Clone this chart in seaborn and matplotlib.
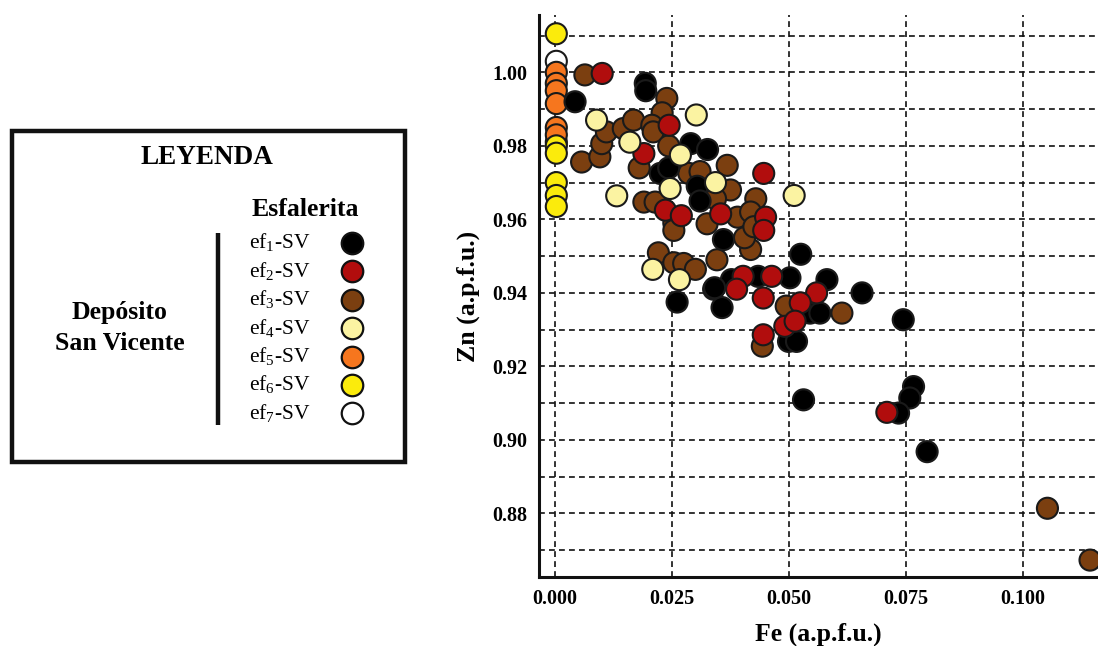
import numpy as np
import pandas as pd
import seaborn as sns
import matplotlib.pyplot as plt
from matplotlib.ticker import MultipleLocator

sns.set_style('white')
plt.rcParams['font.family'] = ['Liberation Serif', 'DejaVu Serif']
plt.rcParams['mathtext.fontset'] = 'custom'
plt.rcParams['mathtext.rm'] = 'Liberation Serif'
plt.rcParams['text.color'] = 'black'
plt.rcParams['axes.labelcolor'] = 'black'

# datos (Fe, Zn en a.p.f.u.)
fe_ef1 = [0.0043, 0.0193, 0.0194, 0.0290, 0.0326, 0.0225, 0.0243, 0.0304, 0.0310, 0.0360,
          0.0261, 0.0339, 0.0357, 0.0377, 0.0434, 0.0502, 0.0525, 0.0581, 0.0545, 0.0566,
          0.0656, 0.0744, 0.0499, 0.0516, 0.0531, 0.0766, 0.0758, 0.0734, 0.0795, 0.0341]
zn_ef1 = [0.9920, 0.9970, 0.9950, 0.9806, 0.9790, 0.9725, 0.9740, 0.9690, 0.9650, 0.9545,
          0.9375, 0.9410, 0.9360, 0.9436, 0.9445, 0.9441, 0.9505, 0.9436, 0.9345, 0.9345,
          0.9400, 0.9327, 0.9268, 0.9268, 0.9109, 0.9145, 0.9114, 0.9073, 0.8968, 0.9414]

fe_ef2 = [0.0101, 0.0244, 0.0190, 0.0446, 0.0236, 0.0270, 0.0354, 0.0450, 0.0446, 0.0402,
          0.0388, 0.0463, 0.0445, 0.0559, 0.0524, 0.0491, 0.0513, 0.0445, 0.0709]
zn_ef2 = [0.9997, 0.9856, 0.9779, 0.9725, 0.9625, 0.9610, 0.9615, 0.9606, 0.9570, 0.9445,
          0.9410, 0.9445, 0.9386, 0.9400, 0.9373, 0.9309, 0.9323, 0.9286, 0.9075]

fe_ef3 = [0.0064, 0.0057, 0.0096, 0.0100, 0.0110, 0.0146, 0.0168, 0.0239, 0.0229, 0.0207,
          0.0210, 0.0243, 0.0180, 0.0286, 0.0310, 0.0368, 0.0375, 0.0343, 0.0190, 0.0214,
          0.0254, 0.0254, 0.0325, 0.0390, 0.0429, 0.0418, 0.0418, 0.0221, 0.0254, 0.0275,
          0.0300, 0.0346, 0.0494, 0.0443, 0.0613, 0.1052, 0.1143, 0.0405, 0.0425]
zn_ef3 = [0.9993, 0.9756, 0.9770, 0.9806, 0.9838, 0.9847, 0.9870, 0.9929, 0.9890, 0.9856,
          0.9838, 0.9800, 0.9740, 0.9725, 0.9730, 0.9747, 0.9680, 0.9656, 0.9647, 0.9647,
          0.9590, 0.9570, 0.9588, 0.9606, 0.9656, 0.9620, 0.9518, 0.9509, 0.9482, 0.9480,
          0.9464, 0.9490, 0.9364, 0.9255, 0.9345, 0.8814, 0.8673, 0.9550, 0.9580]

fe_ef4 = [0.0089, 0.0160, 0.0268, 0.0302, 0.0246, 0.0343, 0.0511, 0.0132, 0.0209, 0.0266]
zn_ef4 = [0.9870, 0.9810, 0.9775, 0.9884, 0.9684, 0.9700, 0.9665, 0.9664, 0.9464, 0.9436]

fe_ef5 = [0.0003, 0.0003, 0.0003, 0.0003, 0.0003, 0.0003]
zn_ef5 = [1.0000, 0.9970, 0.9950, 0.9915, 0.9850, 0.9830]

fe_ef6 = [0.0003, 0.0003, 0.0003, 0.0003, 0.0003, 0.0003]
zn_ef6 = [1.0105, 0.9800, 0.9780, 0.9700, 0.9665, 0.9635]

fe_ef7 = [0.0003, 0.0003]
zn_ef7 = [1.0030, 0.9810]

grupos = ['ef1-SV', 'ef2-SV', 'ef3-SV', 'ef4-SV', 'ef5-SV', 'ef6-SV', 'ef7-SV']
etiquetas = ['ef$_1$-SV', 'ef$_2$-SV', 'ef$_3$-SV', 'ef$_4$-SV', 'ef$_5$-SV', 'ef$_6$-SV', 'ef$_7$-SV']
colores = ['#000000', '#b10d0d', '#7b3f10', '#fbf3a2', '#f6761e', '#fbeb0c', '#ffffff']

datos = {'ef7-SV': (fe_ef7, zn_ef7), 'ef5-SV': (fe_ef5, zn_ef5), 'ef6-SV': (fe_ef6, zn_ef6),
         'ef3-SV': (fe_ef3, zn_ef3), 'ef1-SV': (fe_ef1, zn_ef1), 'ef2-SV': (fe_ef2, zn_ef2),
         'ef4-SV': (fe_ef4, zn_ef4)}
df = pd.concat([pd.DataFrame({'Fe': fe, 'Zn': zn, 'grupo': g}) for g, (fe, zn) in datos.items()],
               ignore_index=True)

W, H = 1098, 646
fig = plt.figure(figsize=(W / 100, H / 100), dpi=100)

# panel de leyenda (coordenadas en pixeles)
lax = fig.add_axes([0, 0, 1, 1])
lax.set_xlim(0, W)
lax.set_ylim(H, 0)
lax.axis('off')
lax.add_patch(plt.Rectangle((12, 131), 393, 331, fill=False, lw=3.2, ec='#111111'))
lax.text(207, 158, 'LEYENDA', ha='center', va='center', fontsize=19.5, fontweight='bold')
lax.text(305, 209, 'Esfalerita', ha='center', va='center', fontsize=18.5, fontweight='bold')
lax.text(120, 313, 'Depósito', ha='center', va='center', fontsize=18.5, fontweight='bold')
lax.text(120, 344, 'San Vicente', ha='center', va='center', fontsize=18.5, fontweight='bold')
lax.plot([218, 218], [233, 425], color='#111111', lw=3.2, solid_capstyle='butt')
for i, (lab, c) in enumerate(zip(etiquetas, colores)):
    y = 243 + i * 28.4
    lax.text(249, y, lab, ha='left', va='center', fontsize=15.5)
    lax.plot(352, y, 'o', ms=15.5, mfc=c, mec='#111111', mew=1.6)

# grafico de dispersion
ax = fig.add_axes([539 / W, 1 - 577 / H, (W - 539) / W, (577 - 15) / H])
sns.scatterplot(data=df, x='Fe', y='Zn', hue='grupo', hue_order=grupos,
                palette=dict(zip(grupos, colores)), s=230, edgecolor='#1a1a1a',
                linewidth=1.5, legend=False, ax=ax, zorder=3)

ax.set_xlim(-0.0034, 0.1160)
ax.set_ylim(0.8627, 1.0156)
ax.xaxis.set_major_locator(MultipleLocator(0.025))
ax.yaxis.set_major_locator(MultipleLocator(0.02))
ax.yaxis.set_minor_locator(MultipleLocator(0.01))
ax.xaxis.set_major_formatter(plt.FormatStrFormatter('%.3f'))
ax.yaxis.set_major_formatter(plt.FormatStrFormatter('%.2f'))

ax.grid(True, which='both', axis='y', ls=(0, (3.5, 2.5)), color='#111111', lw=1.2)
ax.grid(True, which='major', axis='x', ls=(0, (3.5, 2.5)), color='#111111', lw=1.2)
ax.set_axisbelow(True)

for s in ['top', 'right']:
    ax.spines[s].set_visible(False)
for s in ['left', 'bottom']:
    ax.spines[s].set_linewidth(2.2)
    ax.spines[s].set_color('#111111')

ax.tick_params(axis='both', which='both', direction='inout', length=9, width=1.5,
               colors='#111111', labelcolor='black', labelsize=14.5, pad=4)
for t in ax.get_xticklabels() + ax.get_yticklabels():
    t.set_fontweight('bold')

ax.set_xlabel('Fe (a.p.f.u.)', fontsize=18.5, fontweight='bold', labelpad=10)
ax.set_ylabel('Zn (a.p.f.u.)', fontsize=18.5, fontweight='bold', labelpad=9)

fig.savefig('out.png', dpi=100)
